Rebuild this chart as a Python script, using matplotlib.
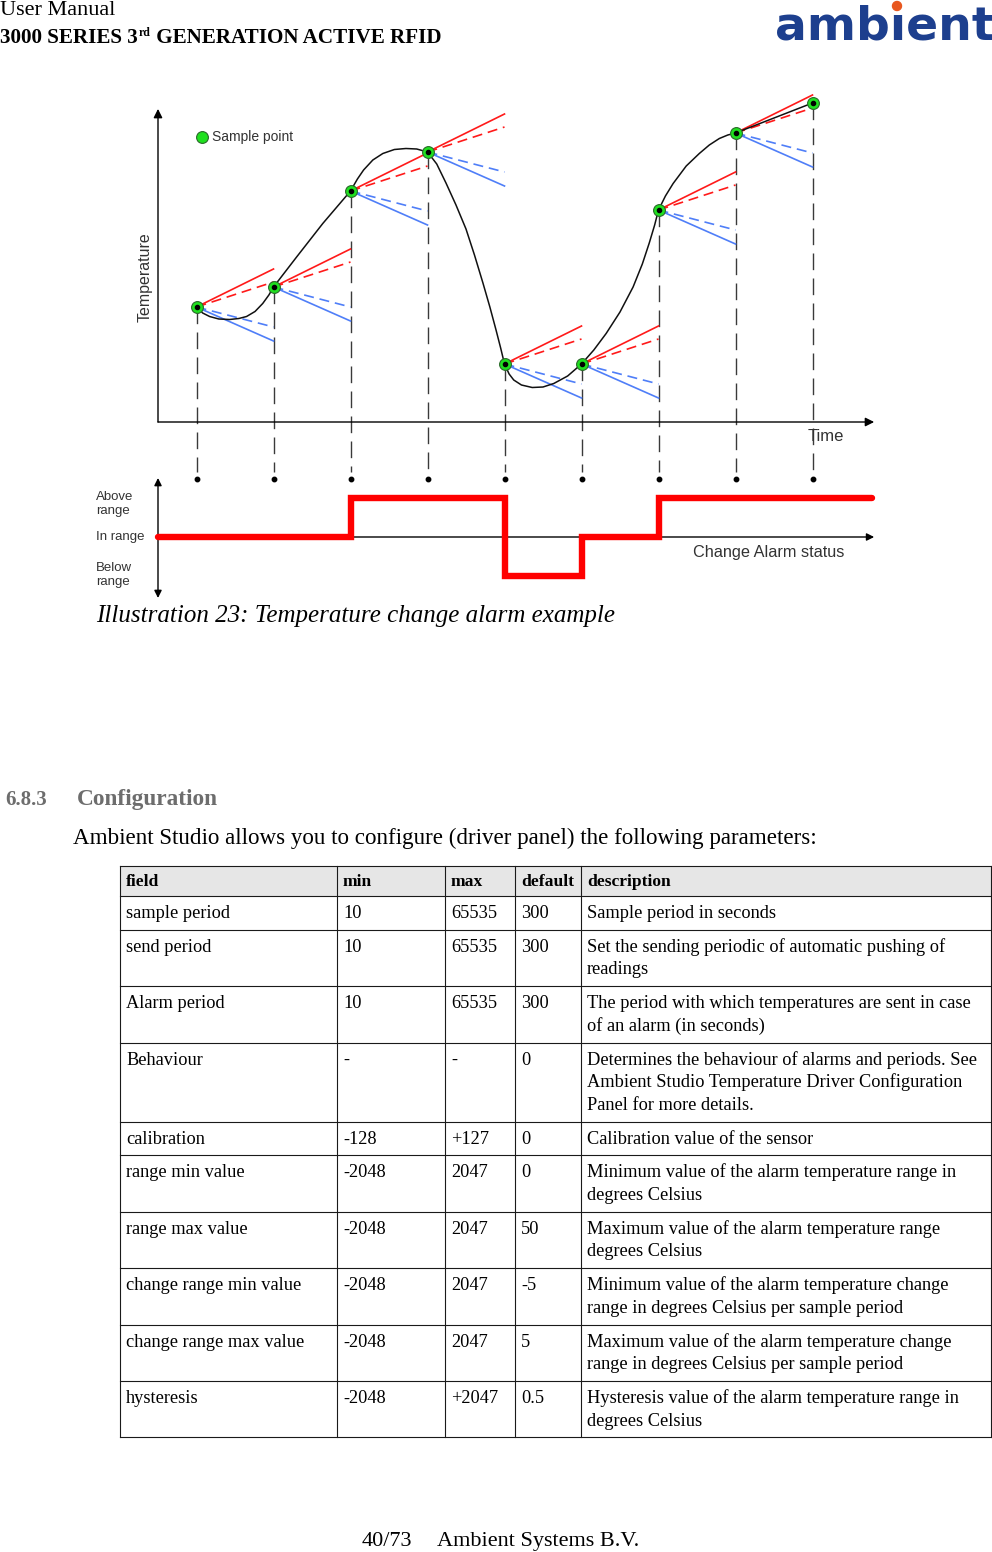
import matplotlib
matplotlib.use("Agg")
import matplotlib.pyplot as plt
from matplotlib.patches import Rectangle, Circle

# sample points: time in sample periods, temperature
sample_t = [1, 2, 3, 4, 5, 6, 7, 8, 9]
sample_temp = [11.5, 13.5, 23.1, 27.0, 5.8, 5.8, 21.2, 28.9, 31.9]

curve_t = [1.0, 1.08, 1.17, 1.29, 1.43, 1.55, 1.65, 1.76, 1.86, 1.94, 2.0, 2.3, 2.64, 3.0,
           3.09, 3.17, 3.29, 3.42, 3.57, 3.72, 3.86, 4.0, 4.12, 4.24, 4.37, 4.5, 4.61,
           4.72, 4.81, 4.89, 4.95, 5.0, 5.06, 5.12, 5.22, 5.36, 5.5, 5.64, 5.82, 6.0,
           6.16, 6.32, 6.5, 6.67, 6.79, 6.88, 6.95, 7.0, 7.09, 7.19, 7.36, 7.53, 7.66,
           7.79, 7.9, 8.0, 9.0]
curve_temp = [11.5, 10.9, 10.55, 10.3, 10.25, 10.35, 10.55, 11.05, 11.85, 12.7, 13.5,
              16.5, 19.85, 23.1, 24.3, 25.2, 26.2, 26.85, 27.25, 27.35, 27.3, 27.0, 25.8,
              23.9, 21.7, 19.3, 16.7, 13.9, 11.5, 9.2, 7.4, 5.8, 4.8, 4.2, 3.7, 3.45, 3.5,
              3.85, 4.6, 5.8, 7.2, 8.85, 11.0, 13.5, 15.8, 17.9, 19.7, 21.2, 22.6, 23.85,
              25.6, 26.85, 27.7, 28.35, 28.7, 28.9, 31.9]

# change limits relative to previous sample, per sample period
change_max = 3.8
change_max_hyst = 2.5
change_min_hyst = -2.0
change_min = -3.4

# change alarm status: 1 above range, 0 in range, -1 below range
status_t = [0.5, 3, 5, 6, 7, 9.77]
status = [0, 1, -1, 0, 1, 1]
status_levels = [1, 0, -1]
status_labels = ["Above\nrange", "In range", "Below\nrange"]

# configuration table
columns = ["field", "min", "max", "default", "description"]
fields = ["sample period", "send period", "Alarm period", "Behaviour", "calibration",
          "range min value", "range max value", "change range min value",
          "change range max value", "hysteresis"]
mins = ["10", "10", "10", "-", "-128", "-2048", "-2048", "-2048", "-2048", "-2048"]
maxs = ["65535", "65535", "65535", "-", "+127", "2047", "2047", "2047", "2047", "+2047"]
defaults = ["300", "300", "300", "0", "0", "0", "50", "-5", "5", "0.5"]
descriptions = [
    "Sample period in seconds",
    "Set the sending periodic of automatic pushing of\nreadings",
    "The period with which temperatures are sent in case\nof an alarm (in seconds)",
    "Determines the behaviour of alarms and periods. See\nAmbient Studio Temperature Driver Configuration\nPanel for more details.",
    "Calibration value of the sensor",
    "Minimum value of the alarm temperature range in\ndegrees Celsius",
    "Maximum value of the alarm temperature range\ndegrees Celsius",
    "Minimum value of the alarm temperature change\nrange in degrees Celsius per sample period",
    "Maximum value of the alarm temperature change\nrange in degrees Celsius per sample period",
    "Hysteresis value of the alarm temperature range in\ndegrees Celsius",
]

W, H = 992, 1552
SERIF = "Liberation Serif"
SANS = "Liberation Sans"
RED = "#ff1a1a"
BLUE = "#4f7ef8"

fig = plt.figure(figsize=(W / 100, H / 100), dpi=100)
page = fig.add_axes([0, 0, 1, 1])
page.set_xlim(0, W)
page.set_ylim(H, 0)
page.axis("off")


def frac(x0, y0, x1, y1):
    return [x0 / W, 1 - y1 / H, (x1 - x0) / W, (y1 - y0) / H]


# ---- page header
page.text(0, 15, "User Manual", fontsize=16, family=SERIF, va="baseline")
t1 = page.text(0, 43, "3000 SERIES 3", fontsize=15.2, family=SERIF, weight="bold", va="baseline")
r = fig.canvas.get_renderer()
x = t1.get_window_extent(r).x1
t2 = page.text(x + 1, 36, "rd", fontsize=8.5, family=SERIF, weight="bold", va="baseline")
x = t2.get_window_extent(r).x1
page.text(x, 43, " GENERATION ACTIVE RFID", fontsize=15.2, family=SERIF, weight="bold", va="baseline")

logo = page.text(775, 40, "amb\u0131ent", fontsize=34, family="DejaVu Sans", weight="bold",
                 color="#1d3f8e", va="baseline")
tmp = page.text(775, 40, "amb", fontsize=34, family="DejaVu Sans", weight="bold", va="baseline")
tmp2 = page.text(775, 40, "amb\u0131", fontsize=34, family="DejaVu Sans", weight="bold", va="baseline")
xi = (tmp.get_window_extent(r).x1 + tmp2.get_window_extent(r).x1) / 2
tmp.remove()
tmp2.remove()
page.add_patch(Circle((xi - 1, 6), 4.5, color="#e8571f", zorder=5))

# ---- temperature chart
ax = fig.add_axes(frac(158, 112, 872, 422))
ax.set_xlim(0.5, 0.5 + 714 / 77)
ax.set_ylim(0, 31.0)
ax.axis("off")

arrow = dict(arrowstyle="-|>", color="black", lw=1, mutation_scale=13, shrinkA=0, shrinkB=0)
ax.annotate("", xy=(0, 1.01), xytext=(0, 0), xycoords="axes fraction", arrowprops=arrow)
ax.annotate("", xy=(1.003, 0), xytext=(0, 0), xycoords="axes fraction", arrowprops=arrow)

for t, T in zip(sample_t, sample_temp):
    ax.plot([t, t], [T, -5.0], color="#3a3a3a", lw=1.0, dashes=(12, 6), clip_on=False, zorder=1)
    ax.plot(t, -5.7, "o", ms=3.2, color="black", clip_on=False)

for t, T in zip(sample_t[:-1], sample_temp[:-1]):
    ax.plot([t, t + 1], [T, T + change_max], color=RED, lw=1.2, clip_on=False, zorder=2)
    ax.plot([t, t + 1], [T, T + change_max_hyst], color=RED, lw=1.2, dashes=(6, 3.5), clip_on=False, zorder=2)
    ax.plot([t, t + 1], [T, T + change_min_hyst], color=BLUE, lw=1.2, dashes=(6, 3.5), clip_on=False, zorder=2)
    ax.plot([t, t + 1], [T, T + change_min], color=BLUE, lw=1.2, clip_on=False, zorder=2)

ax.plot(curve_t, curve_temp, color="#111111", lw=1.1, clip_on=False, zorder=3)
ax.plot(sample_t, sample_temp, "o", ms=8.5, mfc="#1fe01f", mec="#2a6a2a", mew=0.8, clip_on=False, zorder=4)
ax.plot(sample_t, sample_temp, "o", ms=3, color="black", clip_on=False, zorder=5)

ax.plot(0.0616, 0.919, "o", ms=8.5, mfc="#1fe01f", mec="#2a6a2a", mew=0.8, transform=ax.transAxes, clip_on=False)
ax.text(0.0756, 0.919, "Sample point", fontsize=10, family=SANS, color="#333333",
        transform=ax.transAxes, va="center")
ax.text(-0.018, 0.468, "Temperature", fontsize=11.5, family=SANS, color="#333333", rotation=90,
        transform=ax.transAxes, ha="center", va="center")
ax.text(0.910, -0.048, "Time", fontsize=12, family=SANS, color="#333333",
        transform=ax.transAxes, ha="left", va="center")

# ---- change alarm status
ax2 = fig.add_axes(frac(158, 478, 872, 598))
ax2.set_xlim(0.5, 0.5 + 714 / 77)
ax2.set_ylim(-1.584, 1.532)
ax2.axis("off")

ax2.annotate("", xy=(0, 1), xytext=(0, 0), xycoords="axes fraction",
             arrowprops=dict(arrow, arrowstyle="<|-|>", mutation_scale=11))
ax2.annotate("", xy=(1.003, 0), xytext=(0, 0), xycoords=("axes fraction", "data"),
             arrowprops=dict(arrow, mutation_scale=11))
ax2.step(status_t, status, where="post", color="#ff0000", lw=4.6, solid_joinstyle="miter",
         solid_capstyle="round", clip_on=False, zorder=3)

label_pos = [0.85, 0, -0.99]
for pos, lab in zip(label_pos, status_labels):
    ax2.text(-0.0868, pos, lab, fontsize=9.5, family=SANS, color="#333333", linespacing=1.25,
             transform=ax2.get_yaxis_transform(), ha="left", va="center")
ax2.text(0.749, -0.39, "Change Alarm status", fontsize=11.7, family=SANS, color="#333333",
         transform=ax2.get_yaxis_transform(), ha="left", va="center")

page.text(96, 616, "Illustration 23: Temperature change alarm example", fontsize=18,
          family=SERIF, style="italic", va="center")

# ---- section text
page.text(5, 805, "6.8.3", fontsize=15, family=SERIF, weight="bold", color="#6d6d6d", va="baseline")
page.text(77, 805, "Configuration", fontsize=16.8, family=SERIF, weight="bold", color="#6d6d6d", va="baseline")
page.text(73, 844, "Ambient Studio allows you to configure (driver panel) the following parameters:",
          fontsize=16.6, family=SERIF, va="baseline")

# ---- table
col_x = [120, 337, 445, 515, 581, 991]
top = 866
head_h = 30
fs = 13.2
page.add_patch(Rectangle((col_x[0], top), col_x[-1] - col_x[0], head_h, fc="#e6e6e6", ec="none"))
for j, c in enumerate(columns):
    page.text(col_x[j] + 6, top + 20, c, fontsize=fs - 0.6, family=SERIF, weight="bold", va="baseline")

bounds = [top, top + head_h]
y = top + head_h
rows = list(zip(fields, mins, maxs, defaults, descriptions))
for row in rows:
    nlines = row[4].count("\n") + 1
    for j, cell in enumerate(row):
        for k, line in enumerate(cell.split("\n")):
            page.text(col_x[j] + 6, y + 22 + 22.6 * k, line, fontsize=fs, family=SERIF, va="baseline")
    y += 33.8 + 22.6 * (nlines - 1)
    bounds.append(y)

for b in bounds:
    page.plot([col_x[0], col_x[-1]], [b, b], color="#1a1a1a", lw=0.8)
for cx in col_x:
    page.plot([cx, cx], [bounds[0], bounds[-1]], color="#1a1a1a", lw=0.8)

# ---- footer
page.text(362, 1546, "40/73", fontsize=16, family=SERIF, va="baseline")
page.text(437, 1546, "Ambient Systems B.V.", fontsize=16, family=SERIF, va="baseline")

fig.savefig("out.png", dpi=100)
